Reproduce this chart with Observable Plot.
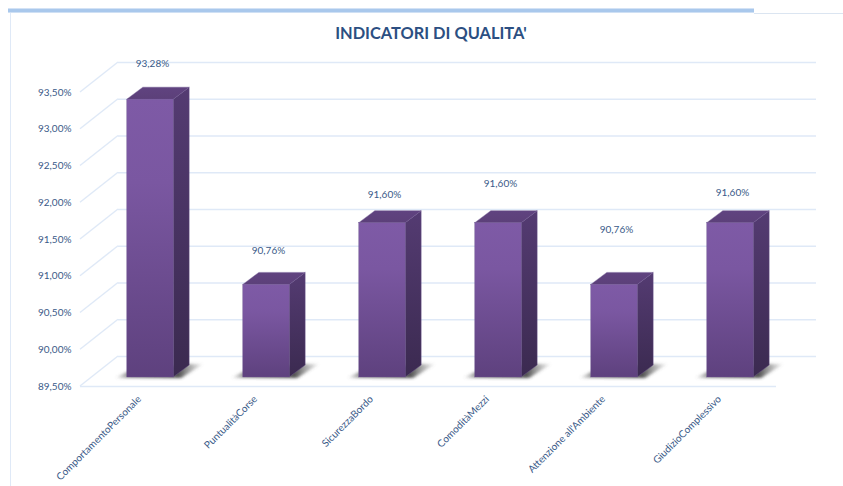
<!DOCTYPE html>
<html><head><meta charset="utf-8">
<script src="https://cdn.jsdelivr.net/npm/d3@7"></script>
<script src="https://cdn.jsdelivr.net/npm/@observablehq/plot@0.6"></script>
<style>
html,body{margin:0;padding:0;background:#fff}
#wrap{position:relative;width:843px;height:486px;overflow:hidden}
#hbar{position:absolute;left:8px;top:8px;width:746px;height:3px;background:#a9c8ec;border-top:1px solid #d3e2f5;border-bottom:1px solid #cfe0f4}
#hair{position:absolute;left:754px;top:13px;width:89px;height:1px;background:#dbe5f1}
#vline{position:absolute;left:10px;top:13px;width:1px;height:473px;background:#dfe9f7}
#title{position:absolute;left:0;top:22px;width:862px;text-align:center;font:bold 16.4px Lato,sans-serif;color:#2c4f82;margin:0;line-height:22px}
svg{display:block;position:absolute;left:0;top:0}
</style></head>
<body><div id="wrap"><div id="hbar"></div><div id="hair"></div><div id="vline"></div>
<h1 id="title">INDICATORI DI QUALITA'</h1></div>
<script>
const categories = ["ComportamentoPersonale","PuntualitàCorse","SicurezzaBordo","ComoditàMezzi","Attenzione all'Ambiente","GiudizioComplessivo"];
const values = [93.28, 90.76, 91.60, 91.60, 90.76, 91.60];
const yTicks = [89.5, 90, 90.5, 91, 91.5, 92, 92.5, 93, 93.5];
const labelLift = [0.49, 0.46, 0.39, 0.53, 0.75, 0.41];

const floor = 89.5;
const data = categories.map((name, i) => ({name, value: values[i], labelAt: values[i] + labelLift[i]}));
const fmt = v => v.toFixed(2).replace(".", ",") + "%";
const ns = "http://www.w3.org/2000/svg";
const el = (tag, attrs = {}, parent) => {
  const e = document.createElementNS(ns, tag);
  for (const k in attrs) e.setAttribute(k, attrs[k]);
  if (parent) parent.appendChild(e);
  return e;
};
const grad = (defs, id, stops, horizontal) => {
  const g = el("linearGradient", {id, x1: 0, y1: 0, x2: horizontal ? 1 : 0, y2: horizontal ? 0 : 1}, defs);
  for (const [o, c, a] of stops) el("stop", {offset: o, "stop-color": c, "stop-opacity": a ?? 1}, g);
};
const defsMark = () => {
  const defs = el("defs");
  grad(defs, "gFront", [[0, "#7e5aa6"], [0.3, "#7a57a1"], [1, "#5e417e"]]);
  grad(defs, "gSide", [[0, "#543b72"], [1, "#3b2a50"]]);
  grad(defs, "gTop", [[0, "#604380"], [1, "#5c4079"]]);
  grad(defs, "gShade", [[0, "#666", 0], [0.14, "#555", 0.6], [0.72, "#333", 0.85], [1, "#666", 0.05]], true);
  const f = el("filter", {id: "soft", x: "-20%", y: "-40%", width: "140%", height: "180%"}, defs);
  el("feGaussianBlur", {stdDeviation: 1.6}, f);
  return defs;
};

const barShift = {dx: 12, dy: -9};
const depth = {dx: 16, dy: -12};
const wall = {dx: 38, dy: -30};
const gridColor = "#dfe9f7";

const solids = (index, {x, y}) => {
  const g = el("g");
  const w = x.bandwidth();
  for (const i of index) {
    const d = data[i];
    const x0 = x(d.name) + barShift.dx, x1 = x0 + w;
    const yb = y(floor) + barShift.dy, yt = y(d.value) + barShift.dy;
    const pts = a => a.map(p => p.join(",")).join(" ");
    el("polygon", {fill: "url(#gShade)", filter: "url(#soft)",
      points: pts([[x0 - 12, yb + 1], [x0, yb - 5], [x1 + depth.dx, yb + depth.dy - 1], [x1 + depth.dx + 14, yb + depth.dy - 1], [x1 + 8, yb + 1]])}, g);
    el("polygon", {fill: "url(#gSide)", stroke: "#6d5590", "stroke-width": 0.4,
      points: pts([[x1, yt], [x1 + depth.dx, yt + depth.dy], [x1 + depth.dx, yb + depth.dy], [x1, yb]])}, g);
    el("polygon", {fill: "url(#gTop)", stroke: "#6d5590", "stroke-width": 0.4,
      points: pts([[x0, yt], [x0 + depth.dx, yt + depth.dy], [x1 + depth.dx, yt + depth.dy], [x1, yt]])}, g);
  }
  return g;
};

const slants = (index, {y}, values, {marginLeft}) => {
  const g = el("g");
  for (const i of index) {
    const v = yTicks[i];
    el("line", {x1: marginLeft, y1: y(v), x2: marginLeft + wall.dx, y2: y(v) + wall.dy,
      stroke: gridColor, "stroke-width": 1.4}, g);
  }
  return g;
};

const chart = Plot.plot({
  width: 843, height: 486,
  marginLeft: 80, marginRight: 67, marginTop: 92, marginBottom: 100,
  style: {background: "transparent", fontFamily: "Lato, sans-serif", fontSize: "10px", color: "#3f5f8c"},
  x: {domain: categories, paddingInner: 0.6, paddingOuter: 0.3, round: false, label: null},
  y: {domain: [89.5, 93.5], label: null},
  marks: [
    defsMark,
    Plot.ruleY(yTicks, {stroke: gridColor, strokeWidth: 1.6, insetRight: -2, ...wall}),
    Plot.ruleY(yTicks, {render: slants}),
    Plot.ruleY([floor], {stroke: gridColor, strokeWidth: 1.6}),
    Plot.barY(data, {x: "name", y1: () => floor, y2: "value", render: solids}),
    Plot.barY(data, {x: "name", y1: () => floor, y2: "value", fill: "url(#gFront)", stroke: "#6d5590", strokeWidth: 0.4, ...barShift}),
    Plot.text(data, {x: "name", y: "labelAt", text: d => fmt(d.value), dx: 14, dy: -9, fill: "#3a5a88", fontSize: 10}),
    Plot.axisY({ticks: yTicks, tickFormat: fmt, tickSize: 0, tickPadding: 9, label: null, fill: "#3a5a88", fontSize: 10}),
    Plot.axisX({tickRotate: -45, tickSize: 0, tickPadding: 8, dx: 1, dy: 3, label: null, fill: "#3a5a88", fontSize: 10})
  ]
});
document.getElementById("wrap").insertBefore(chart, document.getElementById("title"));
</script></body></html>
